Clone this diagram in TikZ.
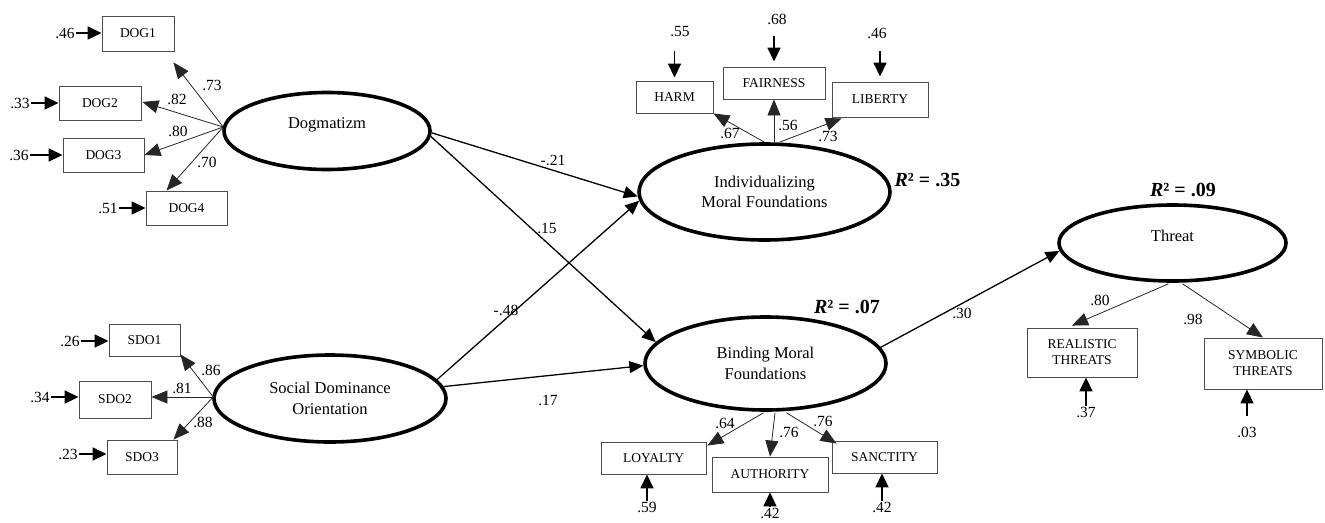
\documentclass[tikz,border=0pt]{standalone}
\usepackage{fontspec}
\setmainfont{Liberation Serif}
\usetikzlibrary{shapes.geometric,arrows.meta,calc}
\begin{document}
\begin{tikzpicture}[x=1pt,y=-1pt,
  lat/.style={ellipse,draw,line width=3.6pt,inner sep=0pt,align=center,font=\fontsize{16.5}{20.5}\selectfont},
  obs/.style={rectangle,draw=black!70,line width=0.9pt,inner sep=0pt,align=center,font=\fontsize{13.5}{16}\selectfont},
  lbl/.style={inner sep=1pt,font=\fontsize{15.5}{18}\selectfont},
  rsq/.style={inner sep=0pt,font=\fontsize{20}{24}\selectfont\bfseries},
  ind/.style={-{Triangle[length=16pt,width=13pt]},line width=0.8pt,draw=black!85},
  reg/.style={-{Triangle[length=14pt,width=12pt]},line width=1.3pt},
  err/.style={-{Triangle[length=14pt,width=13pt]},line width=1.7pt}
]
\useasboundingbox (0,0) rectangle (1325,522);

% latent variables
\node[lat,minimum width=206pt,minimum height=77pt] (dog) at (327,131) {\raisebox{6pt}[\height][\depth]{Dogmatizm}};
\node[lat,minimum width=232pt,minimum height=87pt] (sdo) at (330,398.5) {Social Dominance\\Orientation};
\node[lat,minimum width=251pt,minimum height=96pt] (imf) at (764.5,192) {Individualizing\\Moral Foundations};
\node[lat,minimum width=241pt,minimum height=93pt] (bmf) at (765.5,363.5) {Binding Moral\\Foundations};
\node[lat,minimum width=227pt,minimum height=76pt] (thr) at (1172.5,243) {\raisebox{7pt}[\height][\depth]{Threat}};

% observed variables
\node[obs,minimum width=72pt,minimum height=35pt] (dog1) at (138,33.5) {DOG1};
\node[obs,minimum width=82pt,minimum height=34pt] (dog2) at (100,103) {DOG2};
\node[obs,minimum width=81pt,minimum height=34pt] (dog3) at (103.5,155) {DOG3};
\node[obs,minimum width=81pt,minimum height=34pt] (dog4) at (186.5,208) {DOG4};
\node[obs,minimum width=71pt,minimum height=32pt] (sdo1) at (144.5,340) {SDO1};
\node[obs,minimum width=72pt,minimum height=37pt] (sdo2) at (115,399.5) {SDO2};
\node[obs,minimum width=70pt,minimum height=34pt] (sdo3) at (142,457) {SDO3};
\node[obs,minimum width=77pt,minimum height=32pt] (harm) at (674.5,97) {HARM};
\node[obs,minimum width=102pt,minimum height=32pt] (fair) at (774,83) {FAIRNESS};
\node[obs,minimum width=96pt,minimum height=35pt] (lib) at (880,99.5) {LIBERTY};
\node[obs,minimum width=105pt,minimum height=32pt] (loy) at (653.5,458) {LOYALTY};
\node[obs,minimum width=116pt,minimum height=35pt] (auth) at (770,474.5) {AUTHORITY};
\node[obs,minimum width=105pt,minimum height=32pt] (sanc) at (884.5,457) {SANCTITY};
\node[obs,minimum width=110pt,minimum height=49pt] (real) at (1082,352.5) {REALISTIC\\THREATS};
\node[obs,minimum width=118pt,minimum height=51pt] (symb) at (1263,363.5) {SYMBOLIC\\THREATS};

% R squared
\node[rsq] (r35) at (927.5,180) {\textit{R}² = .35};
\node[rsq] (r07) at (847,307) {\textit{R}² = .07};
\node[rsq] (r09) at (1183,190) {\textit{R}² = .09};

% Dogmatizm indicators
\coordinate (dogo) at ($(dog.west)+(1,-4)$);
\draw[ind] (dogo) -- ($(dog1.south east)+(-1,11)$);
\draw[ind] (dogo) -- ($(dog2.east)+(1,-1)$);
\draw[ind] (dogo) -- (dog3.east);
\draw[ind] (dogo) -- ($(dog4.north)+(-20,0)$);
\node[lbl] (l73) at (212,85) {.73};
\node[lbl] (l82) at (177,99) {.82};
\node[lbl] (l80) at (178,131) {.80};
\node[lbl] (l70) at (207,162) {.70};

% SDO indicators
\coordinate (sdoo) at ($(sdo.west)+(1,-1.5)$);
\draw[ind] (sdoo) -- ($(sdo1.south east)+(0,-2)$);
\draw[ind] (sdoo) -- (sdoo -| sdo2.east);
\draw[ind] (sdoo) -- ($(sdo3.north east)+(-4,0)$);
\node[lbl] (l86) at (211,370) {.86};
\node[lbl] (l81) at (182,388) {.81};
\node[lbl] (l88) at (203,422) {.88};

% Individualizing indicators
\draw[ind] (imf.north) -- (harm.south east);
\draw[ind] ($(imf.north)+(9.5,0)$) -- (fair.south);
\draw[ind] ($(imf.north)+(15,0)$) -- ($(lib.south west)+(10,1)$);
\node[lbl] (l67) at (730,133) {.67};
\node[lbl] (l56) at (788,125) {.56};
\node[lbl] (l73b) at (828,136) {.73};

% Binding indicators
\draw[ind] ($(bmf.south)+(-2,1)$) -- ($(loy.north east)+(1,4)$);
\draw[ind] ($(bmf.south)+(9.5,1)$) -- (auth.north);
\draw[ind] ($(bmf.south)+(21,1)$) -- ($(sanc.north west)+(5,3)$);
\node[lbl] (l64) at (725,423) {.64};
\node[lbl] (l76a) at (789,432) {.76};
\node[lbl] (l76b) at (823,421) {.76};

% Threat indicators
\draw[ind] ($(thr.south)+(-4,1)$) -- ($(real.north)+(-10,-2)$);
\draw[ind] ($(thr.south)+(10,1)$) -- (symb.north);
\node[lbl] (l80b) at (1100,300) {.80};
\node[lbl] (l98) at (1193,319) {.98};

% structural paths
\draw[reg] (dog.-1) -- (imf.182);
\draw[reg] (dog.-3) -- (bmf.169);
\draw[reg] (sdo.10) -- (imf.184.5);
\draw[reg] (sdo.6) -- (bmf.181);
\draw[reg] (bmf.8) -- (thr.184);
\node[lbl] (p21) at (553,160) {-.21};
\node[lbl] (p15) at (547,228) {.15};
\node[lbl] (p48) at (506,310) {-.48};
\node[lbl] (p17) at (548,400) {.17};
\node[lbl] (p30) at (962,313) {.30};

% error terms, left
\node[lbl] (e1) at (65,33) {.46};
\node[lbl] (e2) at (20,103) {.33};
\node[lbl] (e3) at (19,155) {.36};
\node[lbl] (e4) at (108,208) {.51};
\node[lbl] (e5) at (70,341) {.26};
\node[lbl] (e6) at (40,397) {.34};
\node[lbl] (e7) at (68,454) {.23};
\draw[err] (e1.east) -- (e1.east -| dog1.west);
\draw[err] (e2.east) -- (e2.east -| dog2.west);
\draw[err] (e3.east) -- (e3.east -| dog3.west);
\draw[err] (e4.east) -- (e4.east -| dog4.west);
\draw[err] (e5.east) -- (e5.east -| sdo1.west);
\draw[err] (e6.east) -- (e6.east -| sdo2.west);
\draw[err] (e7.east) -- (e7.east -| sdo3.west);

% error terms, top
\node[lbl] (e8) at (680,32) {.55};
\node[lbl] (e9) at (777,19) {.68};
\node[lbl] (e10) at (877,33) {.46};
\draw[err,shorten <=13pt,shorten >=3pt] (e8.south -| harm.north) -- (harm.north);
\draw[err,shorten <=11pt,shorten >=5pt] (e9.south -| fair.north) -- (fair.north);
\draw[err,shorten <=12pt,shorten >=5pt] (e10.south -| lib.north) -- (lib.north);

% error terms, bottom
\node[lbl] (e11) at (647,507) {.59};
\node[lbl] (e12) at (770,513) {.42};
\node[lbl] (e13) at (882,507) {.42};
\node[lbl] (e14) at (1086,412) {.37};
\node[lbl] (e15) at (1247,432) {.03};
\draw[err] (e11.north) -- (e11.north |- loy.south);
\draw[err] (e12.north) -- (e12.north |- auth.south);
\draw[err] (e13.north) -- (e13.north |- sanc.south);
\draw[err] (e14.north) -- (e14.north |- real.south);
\draw[err,shorten <=10pt] (e15.north) -- (e15.north |- symb.south);
\end{tikzpicture}
\end{document}
